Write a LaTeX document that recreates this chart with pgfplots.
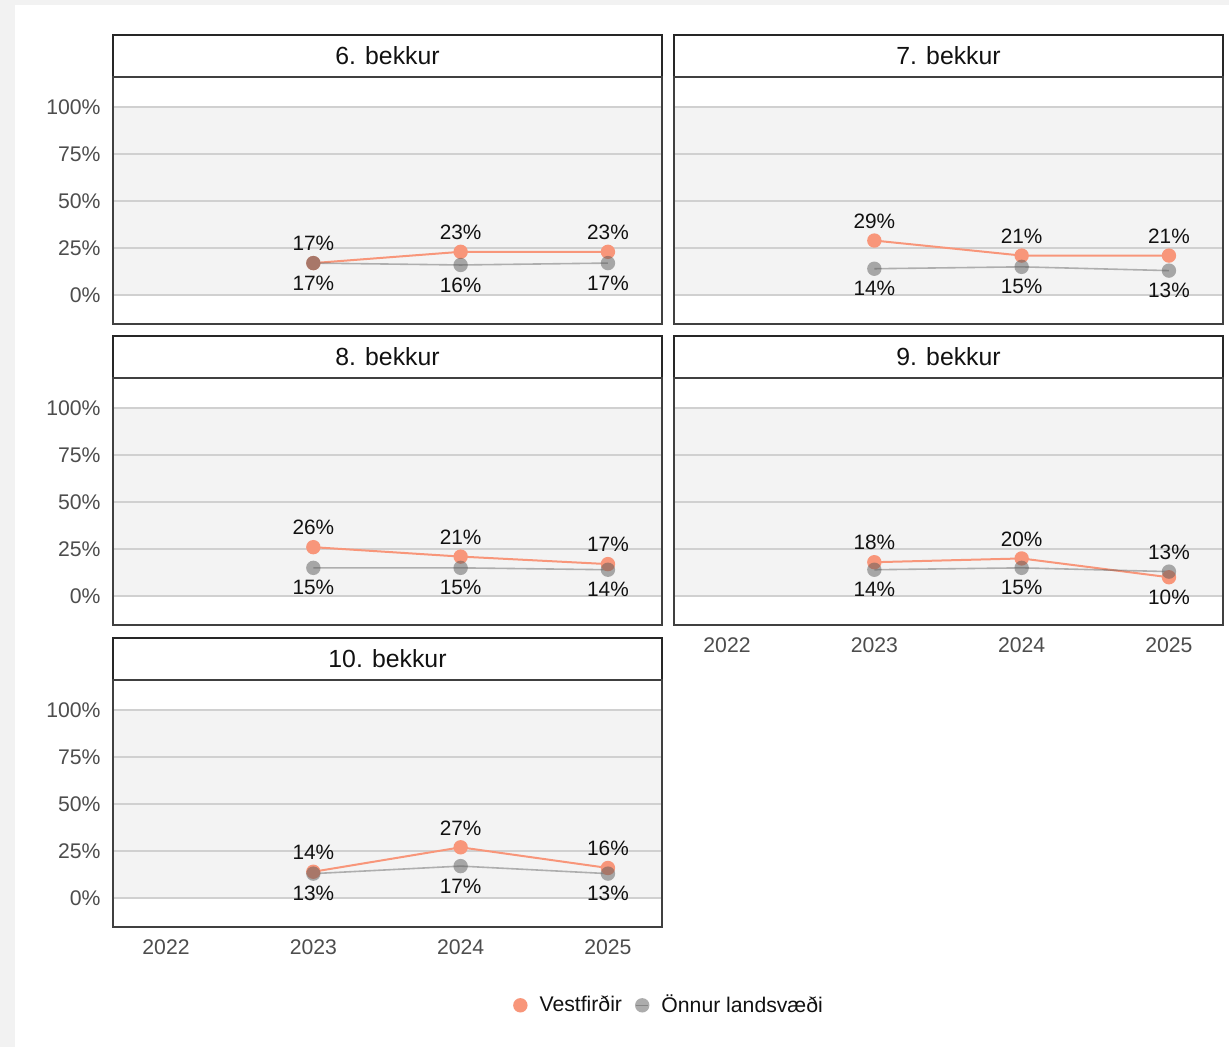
\documentclass[border=0pt]{standalone}
\usepackage{pgfplots}
\pgfplotsset{compat=1.18}
\usepackage{fontspec}
\setmainfont{Liberation Sans}
\definecolor{salmon}{HTML}{F8967A}
\definecolor{grayser}{HTML}{5A5A5A}
\definecolor{bandfill}{HTML}{F3F3F3}
\definecolor{gridc}{HTML}{D0D0D0}
\definecolor{ticktext}{HTML}{4D4D4D}
\definecolor{outerbg}{HTML}{F2F2F2}
\definecolor{textc}{HTML}{111111}
\newcommand{\tickfont}{\fontsize{10.6}{12}\selectfont}
\newcommand{\labfont}{\fontsize{10.4}{12}\selectfont}
\newcommand{\stripfont}{\fontsize{12.4}{14}\selectfont}

\pgfplotsset{
 panel/.style={
  scale only axis, width=274.5pt, height=123.5pt, anchor=south west,
  xmin=-0.36, xmax=3.367, ymin=-0.154, ymax=1.16,
  xtick={0,1,2,3}, ytick={0,0.25,0.5,0.75,1},
  yticklabels={0\%,25\%,50\%,75\%,100\%},
  xticklabels={2022,2023,2024,2025},
  major tick length=0pt, tick style={draw=none},
  axis line style={draw=black!75, line width=0.6pt},
  axis on top, clip=false,
  yticklabel style={anchor=east, inner sep=0pt, xshift=-6pt, font=\tickfont, text=ticktext},
  xticklabel style={anchor=north, inner sep=0pt, yshift=-6pt, font=\tickfont, text=ticktext},
 },
 noxlab/.style={xticklabels={}},
 noylab/.style={yticklabels={}},
 vline/.style={color=salmon, line width=1pt, mark=*, mark size=3.6pt,
   mark options={solid, draw opacity=0, fill=salmon}},
 oline/.style={color=grayser, draw opacity=0.45, line width=0.8pt, mark=*, mark size=3.6pt,
   mark options={solid, draw opacity=0, fill=grayser, fill opacity=0.5}},
 labA/.style={forget plot, draw=none, mark=none, point meta=explicit symbolic, nodes near coords,
   every node near coord/.append style={anchor=center, yshift=9.7pt, font=\labfont, text=textc, inner sep=0pt}},
 labB/.style={forget plot, draw=none, mark=none, point meta=explicit symbolic, nodes near coords,
   every node near coord/.append style={anchor=center, yshift=-10pt, font=\labfont, text=textc, inner sep=0pt}},
}

\newcommand{\band}{%
 \fill[bandfill] (axis cs:-0.36,0) rectangle (axis cs:3.367,1);
 \draw[gridc, line width=1pt] (axis cs:-0.36,0) -- (axis cs:3.367,0);
 \draw[gridc, line width=1pt] (axis cs:-0.36,0.25) -- (axis cs:3.367,0.25);
 \draw[gridc, line width=1pt] (axis cs:-0.36,0.5) -- (axis cs:3.367,0.5);
 \draw[gridc, line width=1pt] (axis cs:-0.36,0.75) -- (axis cs:3.367,0.75);
 \draw[gridc, line width=1pt] (axis cs:-0.36,1) -- (axis cs:3.367,1);
}
\newcommand{\strip}[1]{%
 \draw[line width=1pt, draw=black!85, fill=white] (rel axis cs:0,1) rectangle ([yshift=21pt]rel axis cs:1,1);
 \node[font=\stripfont, text=textc] at ([yshift=10.5pt]rel axis cs:0.5,1) {#1};
}

\begin{document}
\begin{tikzpicture}
\fill[outerbg] (0pt,0pt) rectangle (614.5pt,-523.5pt);
\fill[white] (7.5pt,-2.5pt) rectangle (614.5pt,-523.5pt);

% 6. bekkur
\begin{axis}[panel, noxlab, at={(56.5pt,-162pt)}]
\band
\addplot[vline] coordinates {(1,0.17) (2,0.23) (3,0.23)};
\addplot[oline] coordinates {(1,0.17) (2,0.16) (3,0.17)};
\addplot[labA] coordinates {(1,0.17) [17\%] (2,0.23) [23\%] (3,0.23) [23\%]};
\addplot[labB] coordinates {(1,0.17) [17\%] (2,0.16) [16\%] (3,0.17) [17\%]};
\strip{6. bekkur}
\end{axis}

% 7. bekkur
\begin{axis}[panel, noxlab, noylab, at={(337pt,-162pt)}]
\band
\addplot[vline] coordinates {(1,0.29) (2,0.21) (3,0.21)};
\addplot[oline] coordinates {(1,0.14) (2,0.15) (3,0.13)};
\addplot[labA] coordinates {(1,0.29) [29\%] (2,0.21) [21\%] (3,0.21) [21\%]};
\addplot[labB] coordinates {(1,0.14) [14\%] (2,0.15) [15\%] (3,0.13) [13\%]};
\strip{7. bekkur}
\end{axis}

% 8. bekkur
\begin{axis}[panel, noxlab, at={(56.5pt,-312.5pt)}]
\band
\addplot[vline] coordinates {(1,0.26) (2,0.21) (3,0.17)};
\addplot[oline] coordinates {(1,0.15) (2,0.15) (3,0.14)};
\addplot[labA] coordinates {(1,0.26) [26\%] (2,0.21) [21\%] (3,0.17) [17\%]};
\addplot[labB] coordinates {(1,0.15) [15\%] (2,0.15) [15\%] (3,0.14) [14\%]};
\strip{8. bekkur}
\end{axis}

% 9. bekkur
\begin{axis}[panel, noylab, at={(337pt,-312.5pt)}]
\band
\addplot[vline] coordinates {(1,0.18) (2,0.20) (3,0.10)};
\addplot[oline] coordinates {(1,0.14) (2,0.15) (3,0.13)};
\addplot[labA] coordinates {(1,0.18) [18\%] (2,0.20) [20\%] (3,0.13) [13\%]};
\addplot[labB] coordinates {(1,0.14) [14\%] (2,0.15) [15\%] (3,0.10) [10\%]};
\strip{9. bekkur}
\end{axis}

% 10. bekkur
\begin{axis}[panel, at={(56.5pt,-463.5pt)},
  legend style={at={(1.0146,-0.317)}, anchor=center, legend columns=2, draw=none, fill=none,
    font=\tickfont, text=textc,
    /tikz/every odd column/.append style={column sep=4pt},
    /tikz/every even column/.append style={column sep=4.5pt}},
  legend image code/.code={\draw[mark repeat=2, mark phase=2, #1] plot coordinates {(-3pt,0pt) (0pt,0pt) (3pt,0pt)};}]
\band
\addplot[vline] coordinates {(1,0.14) (2,0.27) (3,0.16)};
\addlegendentry{Vestfirðir}
\addplot[oline] coordinates {(1,0.13) (2,0.17) (3,0.13)};
\addlegendentry{Önnur landsvæði}
\addplot[labA] coordinates {(1,0.14) [14\%] (2,0.27) [27\%] (3,0.16) [16\%]};
\addplot[labB] coordinates {(1,0.13) [13\%] (2,0.17) [17\%] (3,0.13) [13\%]};
\strip{10. bekkur}
\end{axis}

\pgfresetboundingbox
\path[use as bounding box] (0pt,0pt) rectangle (614.5pt,-523.5pt);
\end{tikzpicture}
\end{document}
